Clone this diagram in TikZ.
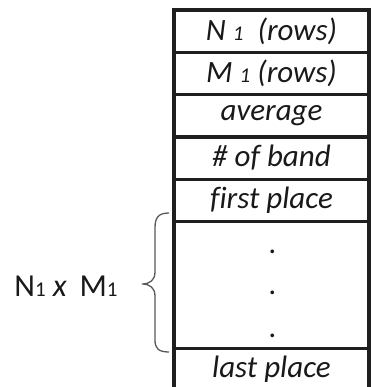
\documentclass[tikz,border=0pt]{standalone}
\usepackage{fontspec}
\setmainfont{Carlito}[Ligatures=NoCommon]
\newcommand\smallone{{\fontsize{21}{21}\selectfont 1}}
\begin{document}
\begin{tikzpicture}[x=1pt,y=-1pt,
  every node/.style={inner sep=0pt, outer sep=0pt, text=black!90,
    font=\fontsize{31}{34}\selectfont\itshape},
  cell/.style={draw=black!88, line width=3.4pt, minimum width=195pt,
    minimum height=42.3pt, anchor=north west},
  rule/.style={draw=black!88, line width=3.4pt},
  bracepath/.style={draw=black!65, line width=1.3pt}]
\useasboundingbox (0,0) rectangle (370,387);
% header cells
\node[cell] (n1)  at (174,10.0)  {N \smallone\ \ (rows)};
\node[cell] (m1)  at (174,52.3)  {M \smallone\ (rows)};
\node[cell] (avg) at (174,94.6)  {average};
\node[cell] (nb)  at (174,136.9) {\# of band};
\node[cell] (fp)  at (174,179.2) {first place};
% tall cell holding the elided places
\node[cell, minimum height=126.9pt] (mid) at (174,221.5) {};
\node (d1) at (273,252) {.};
\node (d2) at (273,293) {.};
\node (d3) at (273,336) {.};
% last row, open at the bottom
\node[anchor=north west, minimum width=195pt, minimum height=42.3pt] (lp) at (174,348.4) {last place};
\coordinate (lpbl) at (174,387);
\coordinate (lpbr) at (369,387);
\draw[rule] (lp.north west) -- (lpbl);
\draw[rule] (lp.north east) -- (lpbr);
% brace grouping the place rows
\coordinate (bt) at (169,213);
\coordinate (bb) at (169,352);
\coordinate (tip) at (142,284);
\draw[bracepath] (bt) .. controls (158,213) and (155,218) .. (155,228)
  -- (155,272) .. controls (155,280) and (150,284) .. (tip)
  .. controls (150,284) and (155,288) .. (155,296)
  -- (155,340) .. controls (155,348) and (158,352) .. (bb);
% size label
\node[font=\fontsize{32}{34}\selectfont] (size) at (66,286) {N\smallone\ \textit{x}\ \,M\smallone};
\end{tikzpicture}
\end{document}
